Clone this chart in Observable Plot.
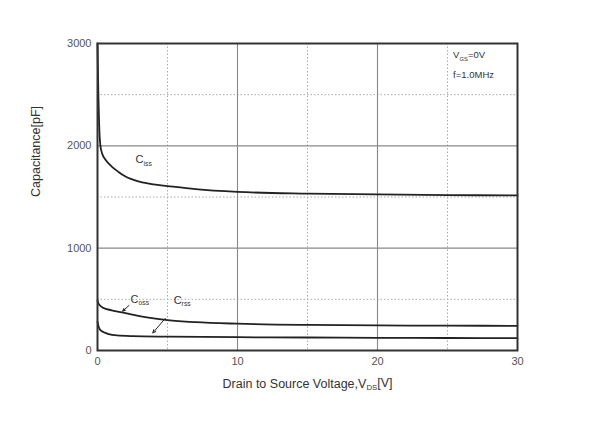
<!DOCTYPE html>
<html>
<head>
<meta charset="utf-8">
<script src="https://cdn.jsdelivr.net/npm/d3@7"></script>
<script src="https://cdn.jsdelivr.net/npm/@observablehq/plot@0.6"></script>
<style>
  html, body { margin: 0; padding: 0; background: #fff; }
</style>
</head>
<body>
<div id="chart"></div>
<script>
// ---- data ----
const cissV = [0, 0.03, 0.07, 0.12, 0.2, 0.33, 0.6, 1, 1.5, 2, 3, 4, 5, 7, 10, 15, 20, 25, 30];
const cissC = [3000, 2750, 2450, 2200, 2010, 1925, 1860, 1800, 1745, 1700, 1650, 1623, 1607, 1577, 1550, 1533, 1525, 1519, 1515];

const cossV = [0, 0.05, 0.15, 0.4, 1, 2, 3, 5, 7, 10, 15, 20, 25, 30];
const cossC = [490, 465, 445, 418, 393, 365, 335, 297, 277, 262, 250, 245, 243, 241];

const crssV = [0, 0.1, 0.25, 0.45, 0.8, 1.4, 2.5, 5, 10, 15, 20, 25, 30];
const crssC = [280, 225, 195, 178, 160, 147, 140, 135, 130, 127, 124, 122, 120];

const xTicks = [0, 10, 20, 30];
const yTicks = [0, 1000, 2000, 3000];
const xMinor = [5, 15, 25];
const yMinor = [500, 1500, 2500];
const xMajor = [10, 20];
const yMajor = [1000, 2000];

const curveLabels = ["C_{iss}", "C_{oss}", "C_{rss}"];
const labelX = [2.72, 2.36, 5.44];
const labelY = [1828, 469, 459];

const arrowFromX = [2.25, 4.85];
const arrowFromY = [440, 315];
const arrowToX = [1.8, 3.95];
const arrowToY = [385, 172];

const condText = ["V_{GS}=0V", "f=1.0MHz"];
const condX = [25.4, 25.4];
const condY = [2854, 2660];

const xTitle = "Drain to Source Voltage,V_{DS}[V]";
const yTitle = "Capacitance[pF]";

// ---- build tables ----
const series = [
  ...cissV.map((v, i) => ({name: "Ciss", v, c: cissC[i]})),
  ...cossV.map((v, i) => ({name: "Coss", v, c: cossC[i]})),
  ...crssV.map((v, i) => ({name: "Crss", v, c: crssC[i]}))
];
const labels = curveLabels.map((t, i) => ({t, x: labelX[i], y: labelY[i]}));
const arrows = arrowFromX.map((x, i) => ({x1: x, y1: arrowFromY[i], x2: arrowToX[i], y2: arrowToY[i]}));
const conds = condText.map((t, i) => ({t, x: condX[i], y: condY[i]}));

const plot = Plot.plot({
  width: 608,
  height: 433,
  marginLeft: 97,
  marginRight: 91,
  marginTop: 43,
  marginBottom: 83,
  style: {fontFamily: "'Liberation Sans', Arial, sans-serif", fontSize: "11px", color: "#444", background: "#fff"},
  x: {domain: [0, 30]},
  y: {domain: [0, 3000]},
  marks: [
    Plot.ruleX(xMinor, {stroke: "#aaa", strokeWidth: 1, strokeDasharray: "1.5,2"}),
    Plot.ruleY(yMinor, {stroke: "#aaa", strokeWidth: 1, strokeDasharray: "1.5,2"}),
    Plot.ruleX(xMajor, {stroke: "#888", strokeWidth: 1.1}),
    Plot.ruleY(yMajor, {stroke: "#888", strokeWidth: 1.1}),
    Plot.axisX(xTicks, {tickSize: 0, tickPadding: 7, label: null, fill: "#555", tickFormat: d3.format("d")}),
    Plot.axisY(yTicks, {tickSize: 0, tickPadding: 6, label: null, fill: "#555", tickFormat: d3.format("d")}),
    Plot.line(series, {x: "v", y: "c", z: "name", stroke: "#222", strokeWidth: 1.8, curve: "monotone-x"}),
    Plot.arrow(arrows, {x1: "x1", y1: "y1", x2: "x2", y2: "y2", stroke: "#222", strokeWidth: 1, headLength: 5, headAngle: 50}),
    Plot.text(labels, {x: "x", y: "y", text: "t", textAnchor: "start", lineAnchor: "bottom", fontSize: 11, fill: "#333"}),
    Plot.text(conds, {x: "x", y: "y", text: "t", textAnchor: "start", lineAnchor: "bottom", fontSize: 9.5, fill: "#333"}),
    Plot.text([xTitle], {frameAnchor: "bottom", dy: 33, text: d => d, fontSize: 12.5, fill: "#333", lineAnchor: "middle"}),
    Plot.text([yTitle], {frameAnchor: "left", dx: -62, rotate: -90, text: d => d, fontSize: 12.5, fill: "#333", lineAnchor: "middle"}),
    Plot.frame({stroke: "#333", strokeWidth: 2})
  ]
});

// rich text: turn _{...} into subscripts
plot.querySelectorAll("text").forEach(t => {
  const s = t.textContent;
  if (!s.includes("_{")) return;
  t.textContent = "";
  const ns = "http://www.w3.org/2000/svg";
  const re = /_\{([^}]*)\}/g;
  let last = 0, m, shifted = false;
  const add = (str, sub) => {
    const ts = document.createElementNS(ns, "tspan");
    ts.textContent = str;
    if (sub) { ts.setAttribute("font-size", "62%"); ts.setAttribute("dy", "0.35em"); shifted = true; }
    else if (shifted) { ts.setAttribute("dy", "-0.22em"); shifted = false; }
    t.appendChild(ts);
  };
  while ((m = re.exec(s))) {
    if (m.index > last) add(s.slice(last, m.index), false);
    add(m[1], true);
    last = re.lastIndex;
  }
  if (last < s.length) add(s.slice(last), false);
});

document.getElementById("chart").appendChild(plot);
</script>
</body>
</html>
